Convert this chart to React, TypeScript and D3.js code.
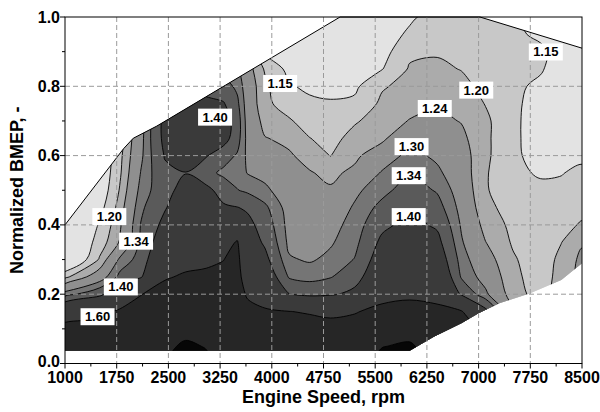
import React from 'react';
import * as d3 from 'd3';

// Engine speed nodes of the measured map (rpm)
const engineSpeeds = [1000, 1500, 1800, 2100, 2450, 2750, 3050, 3300, 3500, 3650, 3900, 4250, 4550, 4850, 5200, 5600, 6000, 6400, 6750, 7100, 7500, 7900, 8200, 8500];

// Normalized BMEP nodes, bottom to top
const bmepNodes = [0, 0.05, 0.1, 0.15, 0.2, 0.25, 0.3, 0.35, 0.4, 0.45, 0.5, 0.55, 0.6, 0.65, 0.7, 0.75, 0.8, 0.85, 0.9, 0.95, 1.0];

// Lambda at every speed node, listed from BMEP 0.00 up to 1.00
const lambdaBySpeed: number[][] = [
  [1.72, 1.70, 1.66, 1.50, 1.32, 1.19, 1.06, 1.05, 1.05, 1.05, 1.05, 1.05, 1.05, 1.05, 1.05, 1.05, 1.05, 1.05, 1.05, 1.05, 1.05],
  [1.72, 1.70, 1.66, 1.56, 1.38, 1.27, 1.205, 1.175, 1.155, 1.13, 1.11, 1.10, 1.09, 1.09, 1.09, 1.09, 1.09, 1.09, 1.09, 1.09, 1.09],
  [1.73, 1.71, 1.68, 1.625, 1.47, 1.355, 1.31, 1.245, 1.235, 1.22, 1.205, 1.195, 1.19, 1.18, 1.17, 1.17, 1.17, 1.17, 1.17, 1.17, 1.17],
  [1.74, 1.72, 1.70, 1.66, 1.595, 1.39, 1.36, 1.35, 1.342, 1.33, 1.315, 1.302, 1.29, 1.285, 1.28, 1.28, 1.28, 1.28, 1.28, 1.28, 1.28],
  [1.79, 1.76, 1.73, 1.70, 1.66, 1.585, 1.50, 1.45, 1.42, 1.395, 1.375, 1.385, 1.405, 1.42, 1.42, 1.39, 1.38, 1.38, 1.38, 1.38, 1.38],
  [1.90, 1.83, 1.74, 1.71, 1.67, 1.62, 1.55, 1.50, 1.47, 1.45, 1.43, 1.398, 1.44, 1.46, 1.46, 1.43, 1.395, 1.38, 1.38, 1.38, 1.38],
  [1.84, 1.79, 1.73, 1.70, 1.67, 1.63, 1.57, 1.52, 1.48, 1.45, 1.42, 1.355, 1.405, 1.44, 1.45, 1.42, 1.37, 1.33, 1.30, 1.30, 1.30],
  [1.72, 1.71, 1.69, 1.67, 1.65, 1.63, 1.598, 1.55, 1.49, 1.41, 1.37, 1.33, 1.36, 1.43, 1.44, 1.405, 1.36, 1.32, 1.29, 1.29, 1.29],
  [1.66, 1.68, 1.69, 1.68, 1.67, 1.66, 1.64, 1.61, 1.50, 1.402, 1.342, 1.32, 1.335, 1.36, 1.365, 1.35, 1.33, 1.31, 1.29, 1.29, 1.29],
  [1.64, 1.66, 1.67, 1.65, 1.58, 1.50, 1.46, 1.44, 1.42, 1.39, 1.33, 1.298, 1.29, 1.285, 1.28, 1.275, 1.27, 1.26, 1.25, 1.25, 1.25],
  [1.64, 1.65, 1.65, 1.62, 1.52, 1.46, 1.42, 1.39, 1.37, 1.35, 1.31, 1.285, 1.265, 1.242, 1.225, 1.21, 1.21, 1.195, 1.14, 1.12, 1.12],
  [1.66, 1.66, 1.65, 1.602, 1.402, 1.335, 1.305, 1.29, 1.285, 1.28, 1.27, 1.26, 1.245, 1.23, 1.205, 1.18, 1.155, 1.135, 1.12, 1.11, 1.11],
  [1.68, 1.67, 1.65, 1.59, 1.38, 1.325, 1.295, 1.285, 1.28, 1.27, 1.255, 1.243, 1.225, 1.201, 1.18, 1.16, 1.14, 1.125, 1.11, 1.10, 1.10],
  [1.70, 1.68, 1.65, 1.57, 1.39, 1.337, 1.31, 1.295, 1.285, 1.27, 1.245, 1.23, 1.199, 1.185, 1.17, 1.155, 1.135, 1.12, 1.11, 1.10, 1.10],
  [1.71, 1.69, 1.66, 1.59, 1.42, 1.37, 1.342, 1.325, 1.315, 1.305, 1.29, 1.25, 1.23, 1.215, 1.195, 1.16, 1.14, 1.12, 1.11, 1.105, 1.10],
  [1.85, 1.795, 1.72, 1.64, 1.55, 1.47, 1.44, 1.415, 1.385, 1.355, 1.325, 1.305, 1.27, 1.23, 1.22, 1.21, 1.195, 1.148, 1.13, 1.12, 1.11],
  [1.90, 1.82, 1.74, 1.66, 1.57, 1.51, 1.47, 1.44, 1.42, 1.395, 1.365, 1.335, 1.315, 1.285, 1.242, 1.225, 1.215, 1.205, 1.19, 1.16, 1.14],
  [1.75, 1.72, 1.68, 1.63, 1.56, 1.49, 1.45, 1.42, 1.39, 1.36, 1.335, 1.31, 1.29, 1.265, 1.25, 1.235, 1.225, 1.21, 1.195, 1.18, 1.175],
  [1.70, 1.68, 1.64, 1.61, 1.39, 1.335, 1.32, 1.305, 1.295, 1.285, 1.275, 1.265, 1.26, 1.25, 1.238, 1.23, 1.215, 1.198, 1.185, 1.175, 1.17],
  [1.70, 1.65, 1.58, 1.42, 1.31, 1.28, 1.26, 1.241, 1.225, 1.21, 1.203, 1.205, 1.21, 1.21, 1.21, 1.198, 1.185, 1.175, 1.17, 1.165, 1.16],
  [1.32, 1.30, 1.28, 1.25, 1.215, 1.21, 1.205, 1.195, 1.19, 1.185, 1.18, 1.16, 1.16, 1.16, 1.16, 1.16, 1.16, 1.16, 1.16, 1.16, 1.155],
  [1.25, 1.23, 1.21, 1.195, 1.185, 1.18, 1.175, 1.17, 1.17, 1.165, 1.16, 1.145, 1.13, 1.125, 1.125, 1.13, 1.14, 1.155, 1.16, 1.14, 1.13],
  [1.26, 1.25, 1.24, 1.23, 1.22, 1.215, 1.212, 1.199, 1.185, 1.175, 1.16, 1.148, 1.135, 1.125, 1.12, 1.12, 1.12, 1.125, 1.13, 1.13, 1.13],
  [1.30, 1.29, 1.28, 1.27, 1.26, 1.255, 1.25, 1.235, 1.205, 1.185, 1.17, 1.16, 1.14, 1.13, 1.12, 1.12, 1.12, 1.125, 1.13, 1.13, 1.13],
];

// Contour levels and the grey of each band (first entry: below the lowest level)
const contourLevels = [1.15, 1.2, 1.24, 1.3, 1.34, 1.4, 1.6, 1.8];
const bandColors = ['#e3e3e3', '#c8c8c8', '#ababab', '#8f8f8f', '#757575', '#5a5a5a', '#3a3a3a', '#262626', '#060606'];

// Operating envelope of the engine (speed, BMEP)
const envelopeSpeed = [1000, 6000, 6350, 6750, 7000, 7300, 7750, 8200, 8500, 8500, 7020, 4990, 2330, 1990, 1850, 1000];
const envelopeBmep = [0.037, 0.037, 0.077, 0.116, 0.145, 0.174, 0.203, 0.241, 0.289, 0.91, 1.0, 1.0, 0.685, 0.65, 0.62, 0.4];
// Full-load edges drawn as a line (indices into the envelope, in order)
const fullLoadEdge = [9, 10, 11, 12, 13, 14, 15];

// Inline contour labels
const labelLevels = [1.4, 1.15, 1.2, 1.34, 1.4, 1.6, 1.2, 1.24, 1.3, 1.34, 1.4, 1.15];
const labelSpeeds = [3177, 4121, 1643, 2031, 1810, 1472, 6966, 6364, 6027, 5986, 5986, 7975];
const labelBmep = [0.711, 0.808, 0.424, 0.353, 0.221, 0.135, 0.789, 0.736, 0.626, 0.542, 0.424, 0.899];

// Axis ticks
const speedTicks = [1000, 1750, 2500, 3250, 4000, 4750, 5500, 6250, 7000, 7750, 8500];
const speedMinorTicks = [1375, 2125, 2875, 3625, 4375, 5125, 5875, 6625, 7375, 8125];
const bmepTicks = [0, 0.2, 0.4, 0.6, 0.8, 1.0];
const bmepMinorTicks = [0.1, 0.3, 0.5, 0.7, 0.9];

const FONT = "'Liberation Sans', Arial, Helvetica, sans-serif";

export default function App() {
  const left = 65, right = 582, top = 17, bottom = 363.5;
  const x = d3.scaleLinear().domain([1000, 8500]).range([left, right]);
  const y = d3.scaleLinear().domain([0, 1]).range([bottom, top]);

  const n = engineSpeeds.length;
  const m = bmepNodes.length;
  const grid: number[] = new Array(n * m);
  for (let j = 0; j < m; j++) {
    for (let i = 0; i < n; i++) grid[i + j * n] = lambdaBySpeed[i][j];
  }
  const bands = d3.contours().size([n, m]).thresholds(contourLevels)(grid);

  const colToSpeed = d3.scaleLinear().domain(engineSpeeds.map((_, i) => i)).range(engineSpeeds);
  const rowToBmep = d3.scaleLinear().domain(bmepNodes.map((_, j) => j)).range(bmepNodes);
  const project = (p: number[]): [number, number] => [x(colToSpeed(p[0] - 0.5)), y(rowToBmep(p[1] - 0.5))];
  const ringLine = d3.line().curve(d3.curveCatmullRomClosed.alpha(0.5));
  const bandPath = (mp: any) =>
    mp.coordinates
      .map((poly: number[][][]) => poly.map((ring) => ringLine(ring.slice(0, -1).map(project)) || '').join(''))
      .join('');

  const envPts: [number, number][] = envelopeSpeed.map((s, k) => [x(s), y(envelopeBmep[k])]);
  const envelopePath = d3.line()(envPts) + 'Z';
  const edgePath = d3.line()(fullLoadEdge.map((k) => envPts[k]));

  const gridX = speedTicks.slice(1, -1);
  const gridY = bmepTicks.slice(1, -1);

  return (
    <svg width={600} height={412} style={{ position: 'absolute', left: 0, top: 0, display: 'block' }} fontFamily={FONT}>
      <defs>
        <clipPath id="envelope">
          <path d={envelopePath} />
        </clipPath>
      </defs>
      <rect x={0} y={0} width={600} height={412} fill="#ffffff" />

      <g clipPath="url(#envelope)">
        <rect x={left} y={top} width={right - left} height={bottom - top} fill={bandColors[0]} />
        {bands.map((b, k) => (
          <path key={'f' + k} d={bandPath(b)} fill={bandColors[k + 1]} fillRule="evenodd" stroke="none" />
        ))}
        {bands.map((b, k) => (
          <path key={'s' + k} d={bandPath(b)} fill="none" stroke="#000" strokeWidth={0.9} />
        ))}
      </g>

      <path d={edgePath || ''} fill="none" stroke="#000" strokeWidth={1} />

      <g stroke="#9a9a9a" strokeWidth={1} strokeDasharray="5,3">
        {gridX.map((s) => (
          <line key={'gx' + s} x1={x(s)} x2={x(s)} y1={top} y2={bottom} />
        ))}
        {gridY.map((b) => (
          <line key={'gy' + b} x1={left} x2={right} y1={y(b)} y2={y(b)} />
        ))}
      </g>

      {labelLevels.map((lv, k) => {
        const cx = x(labelSpeeds[k]);
        const cy = y(labelBmep[k]);
        return (
          <g key={'l' + k}>
            <rect x={cx - 17} y={cy - 8.5} width={34} height={17} fill="#ffffff" />
            <text x={cx} y={cy + 4.5} textAnchor="middle" fontSize={13} fontWeight="bold" fill="#000">
              {lv.toFixed(2)}
            </text>
          </g>
        );
      })}

      <rect x={left} y={top} width={right - left} height={bottom - top} fill="none" stroke="#000" strokeWidth={1} />

      <g stroke="#000" strokeWidth={1}>
        {speedTicks.map((s) => (
          <line key={'tx' + s} x1={x(s)} x2={x(s)} y1={bottom} y2={bottom + 5} />
        ))}
        {speedMinorTicks.map((s) => (
          <line key={'mx' + s} x1={x(s)} x2={x(s)} y1={bottom} y2={bottom + 3} />
        ))}
        {bmepTicks.map((b) => (
          <line key={'ty' + b} x1={left - 5} x2={left} y1={y(b)} y2={y(b)} />
        ))}
        {bmepMinorTicks.map((b) => (
          <line key={'my' + b} x1={left - 3} x2={left} y1={y(b)} y2={y(b)} />
        ))}
      </g>

      <g fontSize={16} fontWeight="bold" fill="#000">
        {speedTicks.map((s) => (
          <text key={'lx' + s} x={x(s)} y={383} textAnchor="middle">
            {s}
          </text>
        ))}
        {bmepTicks.map((b) => (
          <text key={'ly' + b} x={60} y={y(b) + (b === 0 ? 3.5 : 5.5)} textAnchor="end">
            {b.toFixed(1)}
          </text>
        ))}
      </g>

      <text x={(left + right) / 2} y={403} textAnchor="middle" fontSize={18} fontWeight="bold">
        Engine Speed, rpm
      </text>
      <text transform={`translate(23, ${(top + bottom) / 2}) rotate(-90)`} textAnchor="middle" fontSize={18} fontWeight="bold">
        Normalized BMEP, -
      </text>
    </svg>
  );
}
